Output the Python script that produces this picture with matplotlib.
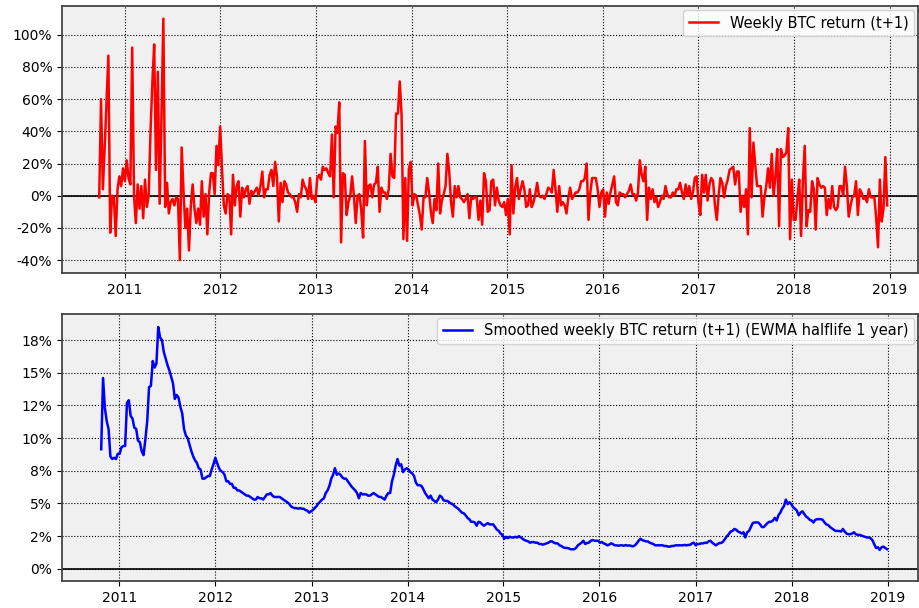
import numpy as np
import pandas as pd
import matplotlib
matplotlib.use('Agg')
import matplotlib.pyplot as plt
import matplotlib.ticker as mticker
import matplotlib.dates as mdates

# weekly return (t+1) in percent, one value per week starting 2010-09-26
weekly_ret = [
    -1, 60, 4, 30, 58, 87, -23, 0, -1, -25, 4, 12, 6, 17, 9, 22, 11, 7, 92, 0,
    -17, 7, -8, 6, -14, 10, -7, 0, 40, 70, 94, 16, 77, -5, 50, 110, -7, 8, -11, -4,
    -2, -6, -1, -2, -40, 30, 3, -20, -8, -34, -6, 7, -8, -17, -8, -18, 9, -13, 1, -24,
    2, 14, 14, 1, 31, 19, 43, 17, -6, -11, 1, 0, -24, 13, -6, 6, 9, -13, 5, -1,
    4, 6, -5, 3, 1, 3, 5, 0, 6, 15, -1, 4, 4, 13, 16, 6, 21, 12, -16, 8,
    -4, 9, 7, 2, 1, -1, -1, -4, -10, 1, -1, 10, 6, 4, -2, 11, -2, 0, -4, 11,
    13, 10, 18, 16, 17, 14, 12, 38, -1, 43, 39, 58, -29, 14, 13, -12, -4, 0, 12, 0,
    -17, 0, 1, -9, -26, 34, -6, 6, 7, -1, 7, 8, 18, -10, 5, 2, 2, -2, 4, 26,
    12, 11, 51, 51, 71, 50, -27, 11, -28, 17, 21, -6, 1, 0, -6, -12, -21, -1, -1, 11,
    2, -10, -17, -2, -9, 20, -11, -3, 1, 6, 26, 15, -4, -13, 6, -1, 6, -1, -2, -4,
    -2, 1, -14, -1, -2, -1, -1, -15, -3, -18, 14, 9, -10, -9, 9, 10, -6, 5, -3, -6,
    -7, -4, -12, -2, -24, 19, -11, 5, 11, -2, 4, 9, 4, -7, -6, 4, -7, -4, 1, 8,
    0, -1, 0, -2, 1, 5, 4, 2, 16, 4, -10, 6, -6, -4, -6, -11, -1, 5, -2, 0,
    2, 2, 4, 9, 9, 11, 20, -15, 2, 11, 11, 11, 4, -7, 2, 4, -13, 2, -5, 2,
    7, 12, -4, -6, 2, 1, 1, -1, 1, 3, 7, 1, 1, -3, 2, 22, 13, 9, 18, -15,
    5, -2, 4, -4, -1, -7, -4, 0, -2, 6, 1, -1, -1, 2, 0, 4, 4, 8, 2, -2,
    7, 0, 6, -2, 2, 11, 12, -4, -12, 13, 2, 13, -3, 7, 11, 9, -6, -15, 0, 11,
    8, -1, 6, 10, 16, 17, 18, 7, 15, 15, -10, 0, -7, 4, -24, 42, -1, 33, 19, 6,
    6, 6, -13, -1, 6, 17, 5, 26, 0, 12, 29, -19, 29, 24, 25, 27, 42, -27, 10, -15,
    -15, -2, 10, -25, 9, 31, -19, -9, -10, 9, 4, -21, 11, 7, 5, 6, 5, -12, -2, -8,
    6, -7, -9, -7, 6, 6, 0, 18, 6, -13, -6, -1, 0, 9, -12, 4, 2, -2, -1, -4,
    4, -1, -1, -1, -14, -32, 10, -16, -8, 24, -6,
]

# EWMA smoothed return in percent, weekly starting 2010-10-24
smoothed_ret = [
    9.15, 14.6, 12.3, 11.3, 10.7, 8.6, 8.4, 8.5, 8.4, 8.8, 8.8, 9.3, 9.4, 9.4, 12.7, 12.9,
    11.7, 11.5, 10.8, 10.7, 9.8, 9.7, 9.0, 8.7, 9.9, 11.3, 13.9, 14.0, 15.9, 15.4, 15.7, 18.5,
    17.7, 17.5, 16.6, 16.1, 15.6, 15.2, 14.7, 14.2, 13.0, 13.3, 13.1, 12.4, 11.9, 10.7, 10.2, 10.0,
    9.5, 9.0, 8.6, 8.3, 8.1, 7.7, 7.6, 6.9, 6.9, 7.0, 7.1, 7.1, 7.6, 8.0, 8.5, 8.1,
    7.7, 7.5, 7.4, 7.2, 6.7, 6.7, 6.5, 6.5, 6.2, 6.2, 6.0, 6.0, 5.9, 5.8, 5.7, 5.6,
    5.6, 5.5, 5.4, 5.3, 5.3, 5.5, 5.4, 5.4, 5.3, 5.5, 5.7, 5.7, 5.8, 5.6, 5.5, 5.5,
    5.5, 5.5, 5.4, 5.3, 5.2, 5.1, 5.0, 4.8, 4.7, 4.65, 4.65, 4.6, 4.65, 4.6, 4.6, 4.5,
    4.45, 4.3, 4.4, 4.5, 4.65, 4.8, 5.0, 5.15, 5.3, 5.4, 5.8, 6.0, 6.35, 6.9, 7.2, 7.7,
    7.2, 7.3, 7.2, 7.0, 6.9, 6.9, 6.7, 6.5, 6.3, 6.15, 6.0, 5.8, 5.4, 5.8, 5.7, 5.7,
    5.7, 5.6, 5.6, 5.7, 5.8, 5.7, 5.6, 5.5, 5.5, 5.4, 5.3, 5.6, 5.8, 5.8, 6.7, 7.2,
    7.9, 8.4, 7.9, 8.0, 7.4, 7.6, 7.7, 7.6, 7.4, 7.3, 7.1, 6.6, 6.4, 6.4, 6.35, 6.1,
    5.8, 5.6, 5.4, 5.6, 5.3, 5.2, 5.1, 5.3, 5.6, 5.5, 5.25, 5.2, 5.2, 5.1, 5.0, 4.95,
    4.8, 4.7, 4.6, 4.45, 4.3, 4.25, 4.1, 3.9, 3.8, 3.6, 3.6, 3.55, 3.3, 3.6, 3.55, 3.4,
    3.3, 3.4, 3.5, 3.4, 3.4, 3.4, 3.2, 3.0, 2.9, 2.7, 2.6, 2.3, 2.45, 2.35, 2.45, 2.4,
    2.4, 2.45, 2.4, 2.5, 2.4, 2.3, 2.2, 2.15, 2.1, 2.0, 2.05, 2.05, 2.0, 2.0, 1.9, 1.9,
    1.85, 1.9, 1.95, 2.0, 2.1, 2.1, 2.0, 1.95, 1.95, 1.8, 1.75, 1.65, 1.6, 1.6, 1.57, 1.5,
    1.5, 1.5, 1.6, 1.8, 1.9, 2.0, 2.15, 1.9, 1.98, 2.0, 2.15, 2.2, 2.15, 2.15, 2.15, 2.0,
    2.05, 1.95, 1.9, 1.8, 1.85, 1.95, 1.9, 1.8, 1.8, 1.77, 1.8, 1.8, 1.77, 1.82, 1.77, 1.8,
    1.75, 1.72, 1.8, 1.95, 2.15, 2.3, 2.2, 2.15, 2.1, 2.1, 2.0, 1.95, 1.9, 1.8, 1.8, 1.8,
    1.8, 1.8, 1.75, 1.75, 1.7, 1.7, 1.75, 1.75, 1.8, 1.8, 1.8, 1.8, 1.8, 1.83, 1.8, 1.83,
    1.83, 1.95, 2.0, 1.8, 1.9, 1.9, 1.95, 1.95, 2.0, 1.98, 2.1, 2.15, 2.0, 1.9, 1.8, 1.9,
    1.98, 1.98, 2.1, 2.3, 2.5, 2.65, 2.85, 2.9, 3.05, 3.0, 2.85, 2.8, 2.7, 2.8, 2.4, 2.8,
    2.9, 3.2, 3.5, 3.55, 3.55, 3.55, 3.4, 3.2, 3.2, 3.35, 3.5, 3.6, 3.6, 3.7, 3.9, 3.7,
    4.1, 4.3, 4.6, 4.8, 5.3, 4.95, 5.1, 4.95, 4.7, 4.6, 4.45, 4.1, 4.3, 4.4, 4.2, 4.0,
    3.9, 3.75, 3.7, 3.55, 3.75, 3.8, 3.8, 3.8, 3.75, 3.55, 3.4, 3.35, 3.2, 3.1, 3.0, 2.9,
    2.9, 2.9, 2.85, 3.05, 2.85, 2.7, 2.65, 2.65, 2.7, 2.8, 2.65, 2.6, 2.6, 2.55, 2.5, 2.45,
    2.4, 2.4, 2.35, 2.2, 1.9, 1.6, 1.65, 1.45, 1.65, 1.7, 1.6, 1.5,
]

top_dates = pd.date_range('2010-09-26', periods=len(weekly_ret), freq='7D')
bot_dates = pd.date_range('2010-10-24', periods=len(smoothed_ret), freq='7D')
top_vals = np.array(weekly_ret) / 100.0
bot_vals = np.array(smoothed_ret) / 100.0

# round first so 0.125 prints as 12% like the original
pct = mticker.FuncFormatter(lambda v, pos: '{:.0%}'.format(round(v, 6)))

fig = plt.figure(figsize=(9.19, 6.08), dpi=100)
ax1 = fig.add_axes([0.0675, 0.551, 0.9315, 0.439])
ax2 = fig.add_axes([0.0675, 0.0444, 0.9315, 0.4392])

for ax in (ax1, ax2):
    ax.set_facecolor('#f0f0f0')
    ax.grid(True, color='black', linestyle=':', linewidth=0.8)
    ax.set_axisbelow(True)
    ax.axhline(0, color='black', linewidth=1.2)
    ax.yaxis.set_major_formatter(pct)
    ax.tick_params(labelsize=10)
    for s in ax.spines.values():
        s.set_color('#444444')
        s.set_linewidth(1.3)

ax1.plot(top_dates, top_vals, color='red', linewidth=1.8, label='Weekly BTC return (t+1)')
ax1.yaxis.set_major_locator(mticker.MultipleLocator(0.2))
ax1.set_ylim(-0.48, 1.178)
ax1.set_xlim(pd.Timestamp('2010-05-07'), pd.Timestamp('2019-04-20'))
ax1.legend(loc='upper right', fontsize=10.5, borderaxespad=0.25)

ax2.plot(bot_dates, bot_vals, color='blue', linewidth=1.8,
         label='Smoothed weekly BTC return (t+1) (EWMA halflife 1 year)')
ax2.yaxis.set_major_locator(mticker.MultipleLocator(0.025))
ax2.set_ylim(-0.0093, 0.195)
ax2.set_xlim(pd.Timestamp('2010-05-28'), pd.Timestamp('2019-04-27'))
ax2.legend(loc='upper right', fontsize=10.5, borderaxespad=0.25)

for ax in (ax1, ax2):
    ax.xaxis.set_major_locator(mdates.YearLocator())
    ax.xaxis.set_major_formatter(mdates.DateFormatter('%Y'))

fig.savefig('out.png', dpi=100)
